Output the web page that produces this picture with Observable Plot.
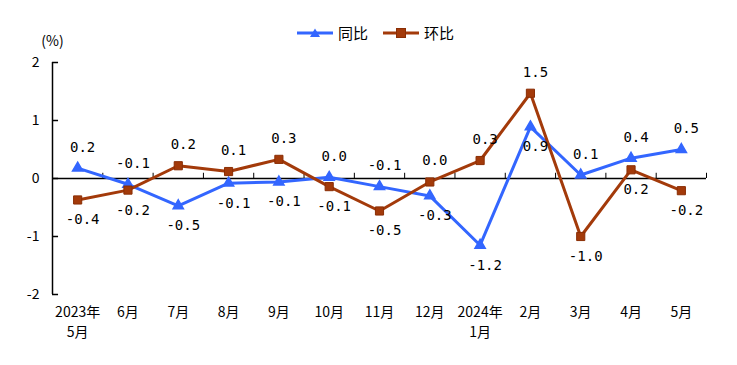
<!DOCTYPE html>
<html><head><meta charset="utf-8">
<script src="https://cdn.jsdelivr.net/npm/d3@7"></script>
<script src="https://cdn.jsdelivr.net/npm/@observablehq/plot@0.6"></script>
<style>
body{margin:0;background:#fff;}
#wrap{position:relative;width:737px;height:365px;}
#legend{position:absolute;left:297px;top:22px;display:flex;align-items:center;font:15px "Noto Sans CJK SC",sans-serif;color:#000;}
#legend span{margin-left:5px;margin-right:15px;}
</style></head><body><div id="wrap"><div id="legend"></div></div>
<script>
const months = ["2023年\n5月","6月","7月","8月","9月","10月","11月","12月","2024年\n1月","2月","3月","4月","5月"];
const yoy = [0.18,-0.10,-0.47,-0.08,-0.06,0.02,-0.14,-0.30,-1.15,0.89,0.06,0.35,0.50];
const yoyLabels = ["0.2","-0.1","-0.5","-0.1","-0.1","0.0","-0.1","-0.3","-1.2","0.9","0.1","0.4","0.5"];
const mom = [-0.37,-0.20,0.22,0.12,0.33,-0.14,-0.56,-0.06,0.31,1.47,-1.00,0.15,-0.21];
const momLabels = ["-0.4","-0.2","0.2","0.1","0.3","-0.1","-0.5","0.0","0.3","1.5","-1.0","0.2","-0.2"];
const seriesNames = ["同比","环比"];
const colors = ["#3366ff","#a33a0a"];
const yTicks = [-2,-1,0,1,2];

const n = months.length;
const idx = d3.range(n);
const bounds = d3.range(n + 1).map(i => i - 0.5);
const rows = [];
idx.forEach(i => {
  rows.push({x:i, y:yoy[i], s:seriesNames[0], label:yoyLabels[i], above: yoy[i] >= mom[i]});
  rows.push({x:i, y:mom[i], s:seriesNames[1], label:momLabels[i], above: mom[i] > yoy[i]});
});
const blue = rows.filter(d => d.s === seriesNames[0]);
const brown = rows.filter(d => d.s === seriesNames[1]);

const chart = Plot.plot({
  width: 737, height: 365,
  marginTop: 62, marginBottom: 71, marginLeft: 52, marginRight: 31,
  style: {fontFamily: '"Noto Sans CJK SC", sans-serif', fontSize: "13px", color: "#000", background: "#fff"},
  x: {type: "linear", domain: [-0.5, n - 0.5]},
  y: {domain: [-2, 2]},
  marks: [
    Plot.axisX(idx, {anchor: "bottom", tickSize: 0, tickPadding: 9, tickFormat: i => months[i], fontSize: 14, lineHeight: 1.4, label: null}),
    Plot.axisY(yTicks, {anchor: "left", tickSize: 0, tickPadding: 13, tickFormat: d => String(d), fontSize: 14, label: null}),
    Plot.ruleX([-0.5], {y1: -2, y2: 2, stroke: "#000", strokeWidth: 1.5}),
    Plot.ruleY(yTicks, {y: d => d, x1: -0.5, x2: -0.38, stroke: "#000", strokeWidth: 1.5}),
    Plot.ruleY([0], {x1: -0.5, x2: n - 0.5, stroke: "#000", strokeWidth: 1.5}),
    Plot.ruleX(bounds.slice(1), {x: d => d, y1: 0, y2: 0.09, stroke: "#000", strokeWidth: 1}),
    Plot.line(blue, {x: "x", y: "y", stroke: colors[0], strokeWidth: 3}),
    Plot.dot(blue, {x: "x", y: "y", symbol: "triangle", r: 3.8, fill: colors[0], stroke: colors[0]}),
    Plot.line(brown, {x: "x", y: "y", stroke: colors[1], strokeWidth: 3}),
    Plot.dot(brown, {x: "x", y: "y", symbol: "square", r: 4.6, fill: colors[1], stroke: "#8a2e05", strokeWidth: 1}),
    Plot.text(rows.filter(d => d.above), {x: "x", y: "y", text: "label", dy: -21, dx: 5, fontFamily: '"DejaVu Sans Mono", monospace', fontSize: 14, fill: "#000"}),
    Plot.text(rows.filter(d => !d.above), {x: "x", y: "y", text: "label", dy: 20, dx: 5, fontFamily: '"DejaVu Sans Mono", monospace', fontSize: 14, fill: "#000"}),
    Plot.text(["(%)"], {frameAnchor: "top-left", dy: -26, text: d => d, textAnchor: "middle", fontSize: 14, fill: "#000"})
  ]
});
document.getElementById("wrap").appendChild(chart);

const legend = document.getElementById("legend");
const symbols = ['<polygon points="18,2.5 23,11 13,11" fill="' + colors[0] + '"/>', '<rect x="13.5" y="2.5" width="9" height="9" fill="' + colors[1] + '" stroke="#8a2e05"/>'];
seriesNames.forEach((name, i) => {
  const sw = document.createElement("span");
  sw.style.margin = "0";
  sw.innerHTML = '<svg width="36" height="14" style="display:block"><line x1="0" y1="7" x2="36" y2="7" stroke="' + colors[i] + '" stroke-width="3"/>' + symbols[i] + '</svg>';
  legend.appendChild(sw);
  const t = document.createElement("span");
  t.textContent = name;
  legend.appendChild(t);
});
</script></body></html>
